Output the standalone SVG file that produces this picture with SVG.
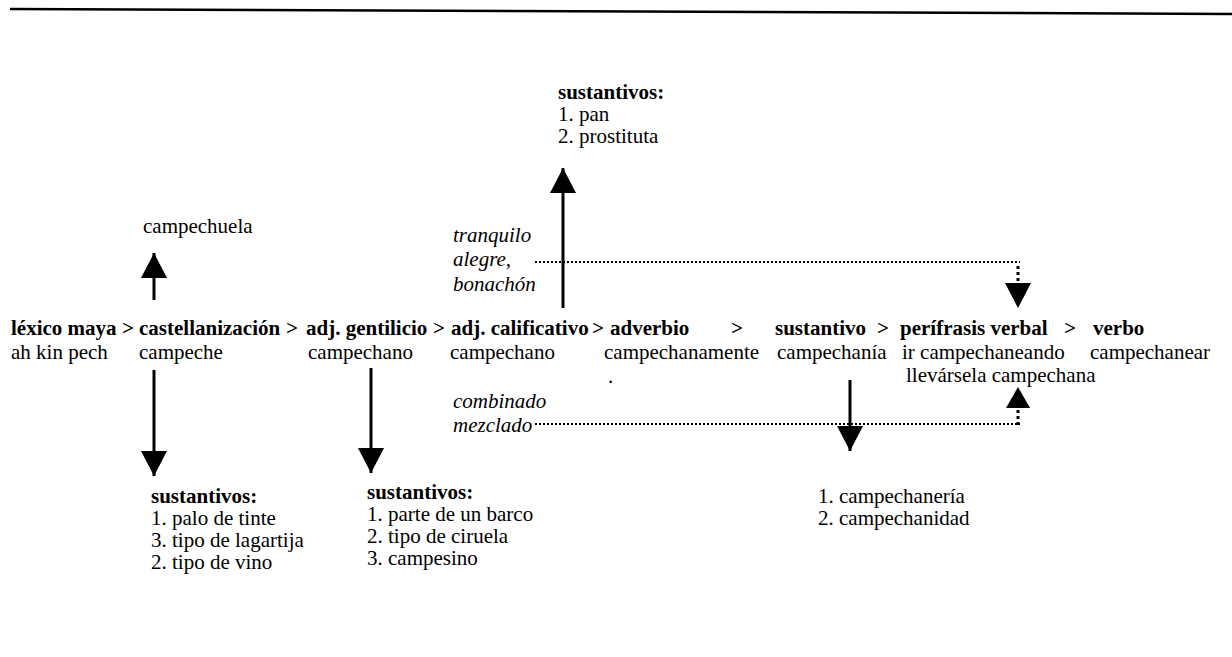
<svg xmlns="http://www.w3.org/2000/svg" width="1232" height="657" viewBox="0 0 1232 657">
<style>
text{font-family:"Liberation Serif","Times New Roman",serif;font-size:21px;fill:#000}
.b{font-weight:bold}
.i{font-style:italic}
.stem{stroke:#000;stroke-width:3;fill:none}
.dot{stroke:#000;stroke-width:2;stroke-dasharray:2 2;fill:none}
.dotv{stroke:#000;stroke-width:3;stroke-dasharray:3 3;fill:none}
</style>
<defs>
<marker id="ah" markerUnits="userSpaceOnUse" markerWidth="25" markerHeight="26" refX="25" refY="13" orient="auto" viewBox="0 0 25 26">
<path d="M0,0 L25,13 L0,26 z" fill="#000"/>
</marker>
</defs>
<rect width="1232" height="657" fill="#fff"/>
<line x1="10" y1="9" x2="1232" y2="14" stroke="#000" stroke-width="2.5"/>

<g id="main-row">
<text class="b" x="11" y="335">léxico maya</text>
<text class="b" x="122" y="335">&gt;</text>
<text class="b" x="139" y="335">castellanización</text>
<text class="b" x="286" y="335">&gt;</text>
<text class="b" x="306" y="335">adj. gentilicio</text>
<text class="b" x="433" y="335">&gt;</text>
<text class="b" x="451" y="335">adj. calificativo</text>
<text class="b" x="592" y="335">&gt;</text>
<text class="b" x="610" y="335">adverbio</text>
<text class="b" x="731" y="335">&gt;</text>
<text class="b" x="775" y="335">sustantivo</text>
<text class="b" x="877" y="335">&gt;</text>
<text class="b" x="900" y="335">perífrasis verbal</text>
<text class="b" x="1064" y="335">&gt;</text>
<text class="b" x="1093" y="335">verbo</text>
</g>
<g id="examples-row">
<text x="11" y="359">ah kin pech</text>
<text x="139" y="359">campeche</text>
<text x="308" y="359">campechano</text>
<text x="450" y="359">campechano</text>
<text x="604" y="359">campechanamente</text>
<text x="608" y="383">.</text>
<text x="777" y="359">campechanía</text>
<text x="902" y="359">ir campechaneando</text>
<text x="906" y="382">llevársela campechana</text>
<text x="1090" y="359">campechanear</text>
</g>
<g id="campechuela">
<text x="143" y="233">campechuela</text>
</g>
<g id="sust-campeche">
<text class="b" x="151" y="503">sustantivos:</text>
<text x="151" y="525">1. palo de tinte</text>
<text x="151" y="547">3. tipo de lagartija</text>
<text x="151" y="569">2. tipo de vino</text>
</g>
<g id="sust-campechano">
<text class="b" x="367" y="499">sustantivos:</text>
<text x="367" y="521">1. parte de un barco</text>
<text x="367" y="543">2. tipo de ciruela</text>
<text x="367" y="565">3. campesino</text>
</g>
<g id="sust-top">
<text class="b" x="558" y="99">sustantivos:</text>
<text x="558" y="121">1. pan</text>
<text x="558" y="143">2. prostituta</text>
</g>
<g id="sust-campechania">
<text x="818" y="503">1. campechanería</text>
<text x="818" y="525">2. campechanidad</text>
</g>
<g id="label-tranquilo">
<text class="i" x="453" y="242">tranquilo</text>
<text class="i" x="453" y="266">alegre,</text>
<text class="i" x="453" y="291">bonachón</text>
</g>
<g id="label-combinado">
<text class="i" x="453" y="408">combinado</text>
<text class="i" x="453" y="432">mezclado</text>
</g>

<g id="connectors">
<line class="stem" x1="154" y1="300" x2="154" y2="253" marker-end="url(#ah)"/>
<line class="stem" x1="154" y1="370" x2="154" y2="476" marker-end="url(#ah)"/>
<line class="stem" x1="371" y1="368" x2="371" y2="473" marker-end="url(#ah)"/>
<line class="stem" x1="563" y1="308" x2="563" y2="168" marker-end="url(#ah)"/>
<line class="stem" x1="850" y1="380" x2="850" y2="451" marker-end="url(#ah)"/>
<line class="dot" x1="535" y1="262" x2="1020" y2="262"/>
<line class="dotv" x1="1018" y1="266" x2="1018" y2="284"/>
<polygon points="1005,283 1031,283 1018,308" fill="#000"/>
<line class="dot" x1="535" y1="424" x2="1020" y2="424"/>
<line class="dotv" x1="1018" y1="425" x2="1018" y2="408"/>
<polygon points="1006,408 1030,408 1018,387" fill="#000"/>
</g>
</svg>
